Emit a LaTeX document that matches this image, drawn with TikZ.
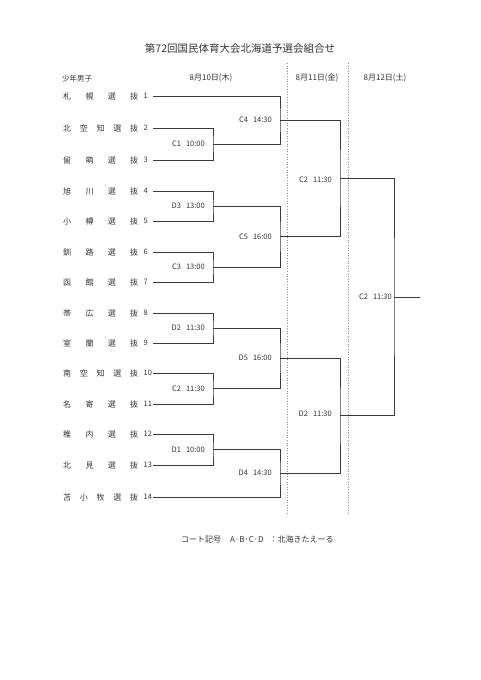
\documentclass[tikz,border=0pt]{standalone}
\usepackage{fontspec}
\setmainfont{Noto Sans CJK JP}
\definecolor{ink}{HTML}{333333}
\definecolor{lnc}{HTML}{3A3A3A}
\definecolor{dotc}{HTML}{8A8A8A}
\newcommand\teamrow[3]{%
  \node[teamname,anchor=west] (n#2) at (63,#1) {\makebox[75pt][s]{#3}};
  \node[num,anchor=west] (t#2) at (143.5,#1) {#2};
  \coordinate (s#2) at (153,#1);}
\newcommand\gp{\hfill\relax}
\begin{document}
\begin{tikzpicture}[x=1pt,y=-1pt,
  teamname/.style={inner sep=0pt,text=ink,font=\fontsize{8}{9}\selectfont},
  num/.style={inner sep=0pt,text=ink,font=\fontsize{7.5}{9}\selectfont},
  lab/.style={inner sep=0pt,text=ink,font=\fontsize{7.5}{9}\selectfont,anchor=east},
  hdr/.style={inner sep=0pt,text=ink,font=\fontsize{7.5}{9}\selectfont},
  dte/.style={inner sep=0pt,text=ink,font=\fontsize{8}{9}\selectfont},
  bk/.style={draw=lnc,line width=1pt},
  sep/.style={draw=dotc,line width=0.6pt,dotted}]
\useasboundingbox[fill=white] (0,0) rectangle (481,680);

\node[inner sep=0pt,text=ink,font=\fontsize{10.5}{12}\selectfont] (title) at (240,48) {第72回国民体育大会北海道予選会組合せ};
\node[hdr,anchor=west] (cat) at (62,79) {少年男子};
\node[dte] (d1) at (211,78) {8月10日(木)};
\node[dte] (d2) at (317,78) {8月11日(金)};
\node[dte] (d3) at (385,78) {8月12日(土)};

\coordinate (v1t) at (287,63); \coordinate (v1b) at (287,515);
\coordinate (v2t) at (348,63); \coordinate (v2b) at (348,515);
\draw[sep] (v1t) -- (v1b);
\draw[sep] (v2t) -- (v2b);

\teamrow{96}{1}{札\gp 幌\gp 選\gp 抜}
\teamrow{128}{2}{北\gp 空\gp 知\gp 選\gp 抜}
\teamrow{160}{3}{留\gp 萌\gp 選\gp 抜}
\teamrow{191}{4}{旭\gp 川\gp 選\gp 抜}
\teamrow{221}{5}{小\gp 樽\gp 選\gp 抜}
\teamrow{252}{6}{釧\gp 路\gp 選\gp 抜}
\teamrow{282}{7}{函\gp 館\gp 選\gp 抜}
\teamrow{313}{8}{帯\gp 広\gp 選\gp 抜}
\teamrow{343}{9}{室\gp 蘭\gp 選\gp 抜}
\teamrow{373}{10}{南\gp 空\gp 知\gp 選\gp 抜}
\teamrow{404}{11}{名\gp 寄\gp 選\gp 抜}
\teamrow{434}{12}{稚\gp 内\gp 選\gp 抜}
\teamrow{465}{13}{北\gp 見\gp 選\gp 抜}
\teamrow{497}{14}{苫\gp 小\gp 牧\gp 選\gp 抜}

% match points
\coordinate (C1) at (213,144);
\coordinate (D3) at (213,206);
\coordinate (C3) at (213,267);
\coordinate (D2a) at (213,328);
\coordinate (C2a) at (213,388.5);
\coordinate (D1) at (213,449.5);
\coordinate (C4) at (280,120);
\coordinate (C5) at (280,236.5);
\coordinate (D5) at (280,358);
\coordinate (D4) at (280,473);
\coordinate (R3a) at (340,178);
\coordinate (R3b) at (340,415.5);
\coordinate (F) at (394,297);
\coordinate (out) at (420,297);

\draw[bk] (s2) -| (C1) |- (s3);
\draw[bk] (s4) -| (D3) |- (s5);
\draw[bk] (s6) -| (C3) |- (s7);
\draw[bk] (s8) -| (D2a) |- (s9);
\draw[bk] (s10) -| (C2a) |- (s11);
\draw[bk] (s12) -| (D1) |- (s13);
\draw[bk] (s1) -| (C4) |- (C1);
\draw[bk] (D3) -| (C5) |- (C3);
\draw[bk] (D2a) -| (D5) |- (C2a);
\draw[bk] (D1) -| (D4) |- (s14);
\draw[bk] (C4) -| (R3a) |- (C5);
\draw[bk] (D5) -| (R3b) |- (D4);
\draw[bk] (R3a) -| (F) |- (R3b);
\draw[bk] (F) -- (out);

\node[lab] (lC1) at (205,144) {C1\hspace{5pt}10:00};
\node[lab] (lD3) at (205,206) {D3\hspace{5pt}13:00};
\node[lab] (lC3) at (205,267) {C3\hspace{5pt}13:00};
\node[lab] (lD2a) at (205,328) {D2\hspace{5pt}11:30};
\node[lab] (lC2a) at (205,388.5) {C2\hspace{5pt}11:30};
\node[lab] (lD1) at (205,449.5) {D1\hspace{5pt}10:00};
\node[lab] (lC4) at (272,120) {C4\hspace{5pt}14:30};
\node[lab] (lC5) at (272,236.5) {C5\hspace{5pt}16:00};
\node[lab] (lD5) at (272,358) {D5\hspace{5pt}16:00};
\node[lab] (lD4) at (272,473) {D4\hspace{5pt}14:30};
\node[lab] (lR3a) at (332,180) {C2\hspace{5pt}11:30};
\node[lab] (lR3b) at (332,414) {D2\hspace{5pt}11:30};
\node[lab] (lF) at (392,297) {C2\hspace{5pt}11:30};

\node[dte,anchor=west] (foot) at (181,539) {コート記号\hspace{9pt}A·B·C·D\hspace{6pt}：北海きたえーる};
\end{tikzpicture}
\end{document}
